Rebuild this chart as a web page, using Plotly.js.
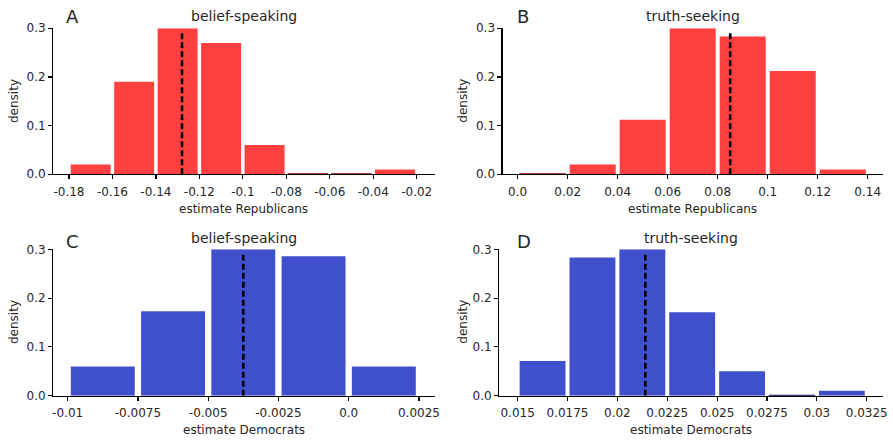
<!DOCTYPE html>
<html>
<head>
<meta charset="utf-8">
<script src="https://cdn.plot.ly/plotly-3.0.1.min.js"></script>
<style>html,body{margin:0;padding:0;background:#fff;}#chart{width:893px;height:440px;}</style>
</head>
<body>
<div id="chart"></div>
<script>
// ---- data ----
const binsA = [-0.17, -0.15, -0.13, -0.11, -0.09, -0.07, -0.05, -0.03];
const densA = [0.02, 0.19, 0.30, 0.27, 0.06, 0.001, 0.001, 0.01];
const meanA = -0.128;

const binsB = [0.01, 0.03, 0.05, 0.07, 0.09, 0.11, 0.13];
const densB = [0.001, 0.02, 0.112, 0.30, 0.283, 0.212, 0.01];
const meanB = 0.085;

const binsC = [-0.00875, -0.00625, -0.00375, -0.00125, 0.00125];
const densC = [0.06, 0.173, 0.30, 0.286, 0.06];
const meanC = -0.00375;

const binsD = [0.01625, 0.01875, 0.02125, 0.02375, 0.02625, 0.02875, 0.03125];
const densD = [0.071, 0.283, 0.30, 0.171, 0.05, 0.001, 0.01];
const meanD = 0.0214;

const ticksA = [-0.18, -0.16, -0.14, -0.12, -0.10, -0.08, -0.06, -0.04, -0.02];
const tickTextA = ["-0.18", "-0.16", "-0.14", "-0.12", "-0.1", "-0.08", "-0.06", "-0.04", "-0.02"];
const ticksB = [0, 0.02, 0.04, 0.06, 0.08, 0.10, 0.12, 0.14];
const tickTextB = ["0.0", "0.02", "0.04", "0.06", "0.08", "0.1", "0.12", "0.14"];
const ticksC = [-0.01, -0.0075, -0.005, -0.0025, 0, 0.0025];
const tickTextC = ["-0.01", "-0.0075", "-0.005", "-0.0025", "0.0", "0.0025"];
const ticksD = [0.015, 0.0175, 0.02, 0.0225, 0.025, 0.0275, 0.03, 0.0325];
const tickTextD = ["0.015", "0.0175", "0.02", "0.0225", "0.025", "0.0275", "0.03", "0.0325"];
const yTicks = [0, 0.1, 0.2, 0.3];
const yTickText = ["0.0", "0.1", "0.2", "0.3"];

const panelLetters = ["A", "B", "C", "D"];
const panelTitles = ["belief-speaking", "truth-seeking", "belief-speaking", "truth-seeking"];
const xTitles = ["estimate Republicans", "estimate Republicans", "estimate Democrats", "estimate Democrats"];
const yTitle = "density";

// ---- styling ----
const RED = "rgb(255,64,64)";
const DARKRED = "rgb(140,20,20)";
const BLUE = "rgb(64,80,204)";
const DARKBLUE = "rgb(30,35,110)";
const FONT = "DejaVu Sans, sans-serif";
const TXT = "#262626";

function barTrace(x, y, w, color, edge, xa, ya) {
  return {type: "bar", x: x, y: y, width: x.map(() => w),
          marker: {color: color, line: {color: edge, width: y.map(v => (v < 0.005 ? 1 : 0))}},
          xaxis: xa, yaxis: ya, hoverinfo: "skip", showlegend: false};
}
function meanTrace(m, xa, ya) {
  return {type: "scatter", mode: "lines", x: [m, m], y: [0, 0.295],
          line: {color: "black", width: 2.6, dash: "6px,3px"},
          xaxis: xa, yaxis: ya, hoverinfo: "skip", showlegend: false};
}

const data = [
  barTrace(binsA, densA, 0.02 * 0.92, RED, DARKRED, "x", "y"),
  meanTrace(meanA, "x", "y"),
  barTrace(binsB, densB, 0.02 * 0.92, RED, DARKRED, "x2", "y2"),
  meanTrace(meanB, "x2", "y2"),
  barTrace(binsC, densC, 0.0025 * 0.91, BLUE, DARKBLUE, "x3", "y3"),
  meanTrace(meanC, "x3", "y3"),
  barTrace(binsD, densD, 0.0025 * 0.92, BLUE, DARKBLUE, "x4", "y4"),
  meanTrace(meanD, "x4", "y4")
];

function xaxis(domain, range, tv, tt, anchor) {
  return {domain: domain, range: range, anchor: anchor, tickvals: tv, ticktext: tt,
          showline: true, linecolor: "black", linewidth: 1.2, ticks: "outside", ticklen: 4,
          tickcolor: "black", tickwidth: 1.2, showgrid: false, zeroline: false, ticklabelstandoff: 2,
          tickfont: {family: FONT, size: 12, color: TXT}, fixedrange: true};
}
function yaxis(domain, anchor) {
  return {domain: domain, range: [0, 0.3], anchor: anchor, tickvals: yTicks, ticktext: yTickText,
          showline: true, linecolor: "black", linewidth: 1.2, ticks: "outside", ticklen: 4,
          tickcolor: "black", tickwidth: 1.2, showgrid: false, zeroline: false,
          tickfont: {family: FONT, size: 12, color: TXT}, fixedrange: true};
}

const topY = [0.6039, 0.9357];
const botY = [0.1007, 0.4334];
const xDomA = [0.0597, 0.4871];
const xDomB = [0.5629, 0.9885];
const xDomD = [0.5591, 0.9885];

const ann = [];
function txt(text, x, y, size, xanchor) {
  ann.push({text: text, x: x, y: y, xref: "paper", yref: "paper", showarrow: false,
            xanchor: xanchor || "center", yanchor: "middle", font: {family: FONT, size: size, color: TXT}});
}
function ytxt(text, x, y) {
  ann.push({text: text, x: x, y: y, xref: "paper", yref: "paper", showarrow: false, textangle: -90,
            xanchor: "center", yanchor: "middle", font: {family: FONT, size: 12, color: TXT}});
}
// letters
txt(panelLetters[0], 64 / 893, 1 - 17 / 440, 18, "left");
txt(panelLetters[1], 515 / 893, 1 - 17 / 440, 18, "left");
txt(panelLetters[2], 64 / 893, 1 - 241 / 440, 18, "left");
txt(panelLetters[3], 515 / 893, 1 - 241 / 440, 18, "left");
// titles
txt(panelTitles[0], 244 / 893, 1 - 16 / 440, 14);
txt(panelTitles[1], 692.7 / 893, 1 - 16 / 440, 14);
txt(panelTitles[2], 244 / 893, 1 - 238 / 440, 14);
txt(panelTitles[3], 691 / 893, 1 - 238 / 440, 14);
// x titles
txt(xTitles[0], 244 / 893, 1 - 209 / 440, 12);
txt(xTitles[1], 692.7 / 893, 1 - 209 / 440, 12);
txt(xTitles[2], 244 / 893, 1 - 430 / 440, 12);
txt(xTitles[3], 691 / 893, 1 - 430 / 440, 12);
// y titles
ytxt(yTitle, 14 / 893, 1 - 101 / 440);
ytxt(yTitle, 462.7 / 893, 1 - 101 / 440);
ytxt(yTitle, 14 / 893, 1 - 322 / 440);
ytxt(yTitle, 462.7 / 893, 1 - 322 / 440);

const layout = {
  width: 893, height: 440,
  margin: {l: 0, r: 0, t: 0, b: 0},
  paper_bgcolor: "white", plot_bgcolor: "white",
  bargap: 0,
  xaxis: xaxis(xDomA, [-0.1872, -0.0116], ticksA, tickTextA, "y"),
  yaxis: yaxis(topY, "x"),
  xaxis2: xaxis(xDomB, [-0.006, 0.146], ticksB, tickTextB, "y2"),
  yaxis2: yaxis(topY, "x2"),
  xaxis3: xaxis(xDomA, [-0.01051, 0.00307], ticksC, tickTextC, "y3"),
  yaxis3: yaxis(botY, "x3"),
  xaxis4: xaxis(xDomD, [0.01408, 0.0333], ticksD, tickTextD, "y4"),
  yaxis4: yaxis(botY, "x4"),
  annotations: ann
};

Plotly.newPlot("chart", data, layout, {staticPlot: true, displayModeBar: false});
</script>
</body>
</html>
